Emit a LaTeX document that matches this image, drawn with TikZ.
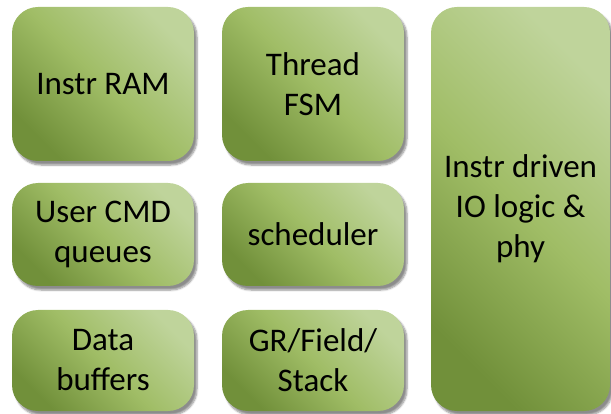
\documentclass[tikz,border=0pt]{standalone}
\usepackage{fontspec}
\setmainfont{Carlito}
\usetikzlibrary{shadows.blur}
\definecolor{glight}{HTML}{BFD49B}
\definecolor{gmid}{HTML}{A0BD66}
\definecolor{gdark}{HTML}{71903A}
\tikzset{
  blk/.style={rectangle, rounded corners=26pt, draw=none,
    shading=axis, top color=glight, bottom color=gdark, middle color=gmid, shading angle=-45,
    blur shadow={shadow xshift=3pt, shadow yshift=-4pt, shadow blur steps=6, shadow blur extra rounding=2pt, shadow opacity=45},
    align=center, inner sep=0pt, font=\fontsize{33}{40}\selectfont, text=black,
    minimum width=182pt}
}
\begin{document}
\begin{tikzpicture}[x=1pt,y=1pt]
\useasboundingbox (0,0) rectangle (611,-414);
\node[blk, minimum height=154pt] (ram) at (103,-84) {Instr RAM};
\node[blk, minimum height=154pt] (fsm) at (313,-84) {Thread\\FSM};
\node[blk, minimum height=103pt] (cmd) at (103,-234.5) {User CMD\\queues};
\node[blk, minimum height=103pt] (sch) at (313,-234.5) {scheduler};
\node[blk, minimum height=101pt] (buf) at (103,-360.5) {Data\\buffers};
\node[blk, minimum height=101pt] (gr) at (313,-360.5) {GR/Field/\\Stack};
\node[blk, minimum width=179pt, minimum height=404pt] (io) at (520.5,-209) {Instr driven\\IO logic \&\\phy};
\end{tikzpicture}
\end{document}
